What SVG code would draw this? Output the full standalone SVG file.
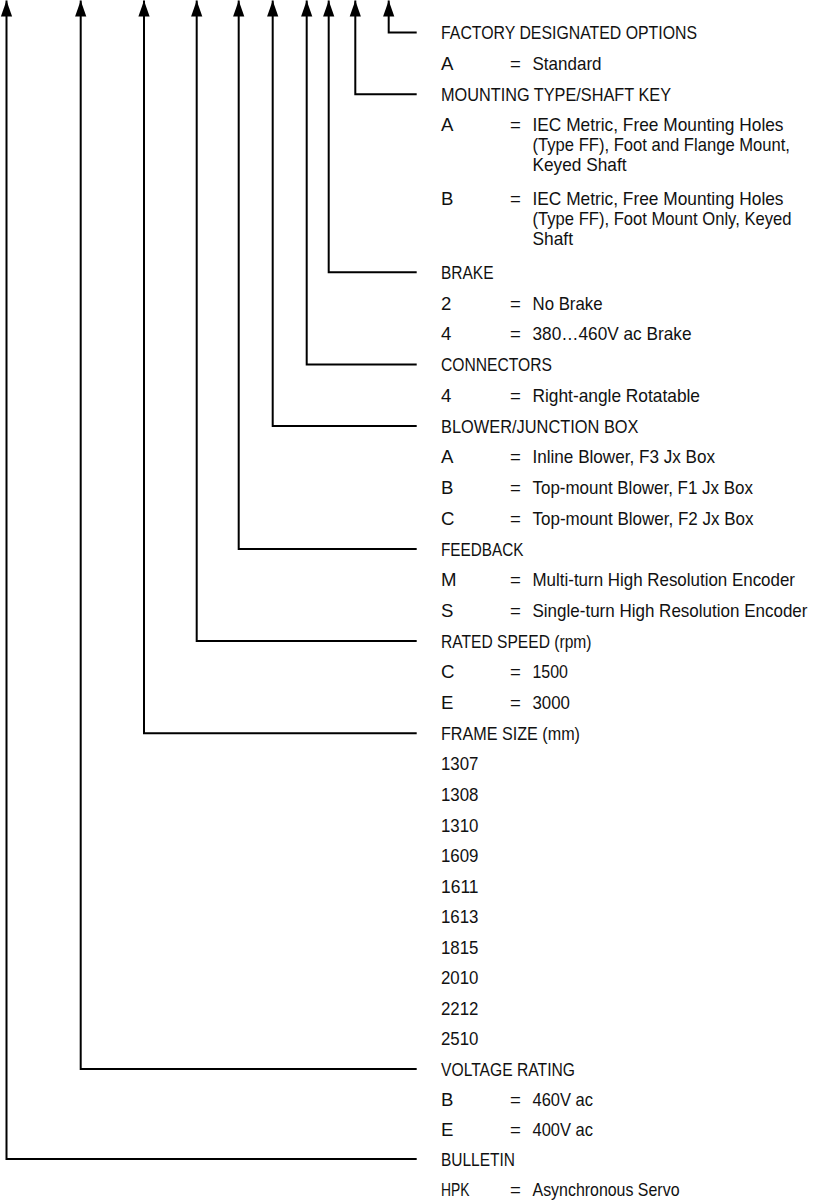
<svg xmlns="http://www.w3.org/2000/svg" width="819" height="1201" viewBox="0 0 819 1201">
<style>
text{font-family:"Liberation Sans",Arial,sans-serif;font-size:18.6px;fill:#111}
.ln{fill:none;stroke:#000;stroke-width:2;stroke-linejoin:miter}
</style>
<defs>
<marker id="arr" markerUnits="userSpaceOnUse" viewBox="0 -6 16 12" markerWidth="16" markerHeight="12" refX="16" refY="0" orient="auto-start-reverse" overflow="visible">
<path d="M0,-5.6 L16,0 L0,5.6 Z" fill="#000"/>
</marker>
</defs>
<rect width="819" height="1201" fill="#fff"/>
<g id="connectors">
<path class="ln" marker-start="url(#arr)" d="M388.7,0.5 V32.5 H416.7"/>
<path class="ln" marker-start="url(#arr)" d="M355.3,0.5 V94.3 H416.7"/>
<path class="ln" marker-start="url(#arr)" d="M328.7,0.5 V272.3 H416.7"/>
<path class="ln" marker-start="url(#arr)" d="M306.7,0.5 V364.5 H416.7"/>
<path class="ln" marker-start="url(#arr)" d="M272.7,0.5 V426 H416.7"/>
<path class="ln" marker-start="url(#arr)" d="M238.7,0.5 V548.9 H416.7"/>
<path class="ln" marker-start="url(#arr)" d="M196.7,0.5 V641 H416.7"/>
<path class="ln" marker-start="url(#arr)" d="M144,0.5 V733.3 H416.7"/>
<path class="ln" marker-start="url(#arr)" d="M80.7,0.5 V1069 H416.7"/>
<path class="ln" marker-start="url(#arr)" d="M6.5,0.5 V1159 H416.7"/>
</g>
<g id="factory-options">
<text x="441" y="39" textLength="256" lengthAdjust="spacingAndGlyphs">FACTORY DESIGNATED OPTIONS</text>
<text x="441" y="70.2">A</text><text x="510" y="70.2">=</text><text x="532.5" y="70.2" textLength="69" lengthAdjust="spacingAndGlyphs">Standard</text>
</g>
<g id="mounting-type">
<text x="441" y="100.9" textLength="230" lengthAdjust="spacingAndGlyphs">MOUNTING TYPE/SHAFT KEY</text>
<text x="441" y="130.9">A</text><text x="510" y="130.9">=</text>
<text x="532.5" y="130.9" textLength="251" lengthAdjust="spacingAndGlyphs">IEC Metric, Free Mounting Holes</text>
<text x="532.5" y="150.9" textLength="257.5" lengthAdjust="spacingAndGlyphs">(Type FF), Foot and Flange Mount,</text>
<text x="532.5" y="170.9" textLength="94" lengthAdjust="spacingAndGlyphs">Keyed Shaft</text>
<text x="441" y="205.2">B</text><text x="510" y="205.2">=</text>
<text x="532.5" y="205.2" textLength="251" lengthAdjust="spacingAndGlyphs">IEC Metric, Free Mounting Holes</text>
<text x="532.5" y="225.2" textLength="259" lengthAdjust="spacingAndGlyphs">(Type FF), Foot Mount Only, Keyed</text>
<text x="532.5" y="245.2" textLength="40.5" lengthAdjust="spacingAndGlyphs">Shaft</text>
</g>
<g id="brake">
<text x="441" y="278.9" textLength="52.5" lengthAdjust="spacingAndGlyphs">BRAKE</text>
<text x="441" y="309.6">2</text><text x="510" y="309.6">=</text><text x="532.5" y="309.6" textLength="70" lengthAdjust="spacingAndGlyphs">No Brake</text>
<text x="441" y="340.4">4</text><text x="510" y="340.4">=</text><text x="532.5" y="340.4" textLength="159" lengthAdjust="spacingAndGlyphs">380…460V ac Brake</text>
</g>
<g id="connectors-option">
<text x="441" y="371.1" textLength="111" lengthAdjust="spacingAndGlyphs">CONNECTORS</text>
<text x="441" y="401.8">4</text><text x="510" y="401.8">=</text><text x="532.5" y="401.8" textLength="167.5" lengthAdjust="spacingAndGlyphs">Right-angle Rotatable</text>
</g>
<g id="blower-junction-box">
<text x="441" y="432.6" textLength="197.5" lengthAdjust="spacingAndGlyphs">BLOWER/JUNCTION BOX</text>
<text x="441" y="463.3">A</text><text x="510" y="463.3">=</text><text x="532.5" y="463.3" textLength="182.5" lengthAdjust="spacingAndGlyphs">Inline Blower, F3 Jx Box</text>
<text x="441" y="494">B</text><text x="510" y="494">=</text><text x="532.5" y="494" textLength="220.5" lengthAdjust="spacingAndGlyphs">Top-mount Blower, F1 Jx Box</text>
<text x="441" y="524.7">C</text><text x="510" y="524.7">=</text><text x="532.5" y="524.7" textLength="221" lengthAdjust="spacingAndGlyphs">Top-mount Blower, F2 Jx Box</text>
</g>
<g id="feedback">
<text x="441" y="555.5" textLength="82.5" lengthAdjust="spacingAndGlyphs">FEEDBACK</text>
<text x="441" y="586.2">M</text><text x="510" y="586.2">=</text><text x="532.5" y="586.2" textLength="262.5" lengthAdjust="spacingAndGlyphs">Multi-turn High Resolution Encoder</text>
<text x="441" y="616.9">S</text><text x="510" y="616.9">=</text><text x="532.5" y="616.9" textLength="275" lengthAdjust="spacingAndGlyphs">Single-turn High Resolution Encoder</text>
</g>
<g id="rated-speed">
<text x="441" y="647.6" textLength="150.5" lengthAdjust="spacingAndGlyphs">RATED SPEED (rpm)</text>
<text x="441" y="678.4">C</text><text x="510" y="678.4">=</text><text x="532.5" y="678.4" textLength="35.5" lengthAdjust="spacingAndGlyphs">1500</text>
<text x="441" y="709.1">E</text><text x="510" y="709.1">=</text><text x="532.5" y="709.1" textLength="37.5" lengthAdjust="spacingAndGlyphs">3000</text>
</g>
<g id="frame-size">
<text x="441" y="739.9" textLength="139" lengthAdjust="spacingAndGlyphs">FRAME SIZE (mm)</text>
<text x="441" y="770.4" textLength="37.5" lengthAdjust="spacingAndGlyphs">1307</text>
<text x="441" y="800.9" textLength="37.5" lengthAdjust="spacingAndGlyphs">1308</text>
<text x="441" y="831.5" textLength="37.5" lengthAdjust="spacingAndGlyphs">1310</text>
<text x="441" y="862" textLength="37.5" lengthAdjust="spacingAndGlyphs">1609</text>
<text x="441" y="892.5" textLength="37.5" lengthAdjust="spacingAndGlyphs">1611</text>
<text x="441" y="923" textLength="37.5" lengthAdjust="spacingAndGlyphs">1613</text>
<text x="441" y="953.6" textLength="37.5" lengthAdjust="spacingAndGlyphs">1815</text>
<text x="441" y="984.1" textLength="37.5" lengthAdjust="spacingAndGlyphs">2010</text>
<text x="441" y="1014.6" textLength="37.5" lengthAdjust="spacingAndGlyphs">2212</text>
<text x="441" y="1045.1" textLength="37.5" lengthAdjust="spacingAndGlyphs">2510</text>
</g>
<g id="voltage-rating">
<text x="441" y="1075.6" textLength="134" lengthAdjust="spacingAndGlyphs">VOLTAGE RATING</text>
<text x="441" y="1105.6">B</text><text x="510" y="1105.6">=</text><text x="532.5" y="1105.6" textLength="60.5" lengthAdjust="spacingAndGlyphs">460V ac</text>
<text x="441" y="1135.6">E</text><text x="510" y="1135.6">=</text><text x="532.5" y="1135.6" textLength="60.5" lengthAdjust="spacingAndGlyphs">400V ac</text>
</g>
<g id="bulletin">
<text x="441" y="1165.6" textLength="74" lengthAdjust="spacingAndGlyphs">BULLETIN</text>
<text x="441" y="1195.6" textLength="28.5" lengthAdjust="spacingAndGlyphs">HPK</text><text x="510" y="1195.6">=</text><text x="532.5" y="1195.6" textLength="147" lengthAdjust="spacingAndGlyphs">Asynchronous Servo</text>
</g>
</svg>
